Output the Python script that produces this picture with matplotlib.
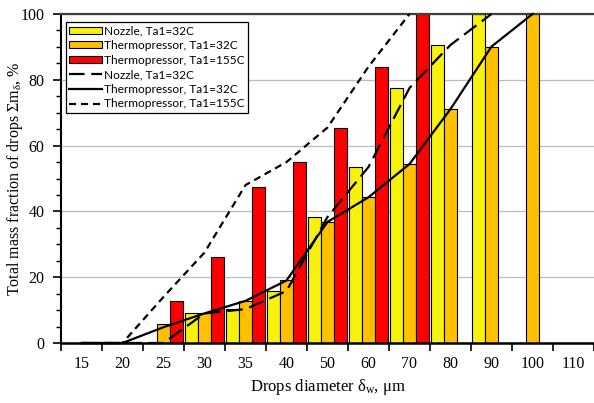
import numpy as np
import matplotlib
matplotlib.use('Agg')
import matplotlib.pyplot as plt
from matplotlib.ticker import MultipleLocator, FixedLocator

# Drop diameter categories (µm)
categories = ['15', '20', '25', '30', '35', '40', '50', '60', '70', '80', '90', '100', '110']

# Bar values, total mass fraction of drops, %
nozzle_32 = [0, 0, 0, 9.0, 10.3, 15.8, 38.3, 53.5, 77.5, 90.6, 100, 0, 0]
thermo_32 = [0, 0, 5.8, 9.0, 12.8, 19.0, 36.8, 44.3, 54.4, 71.1, 90.1, 100, 0]
thermo_155 = [0, 0, 12.8, 26.0, 47.5, 55.0, 65.3, 83.9, 100, 0, 0, 0, 0]

# Curves (drawn at category centres)
nozzle_32_line = [0, 0, 0, 9.0, 10.3, 15.8, 38.3, 53.5, 77.5, 90.6, 100]
thermo_32_line = [0, 0, 4.8, 9.0, 12.8, 19.0, 36.8, 44.3, 54.4, 71.1, 90.1, 100]
thermo_155_line = [0, 0, 14.0, 27.5, 48.0, 55.0, 65.5, 84.0, 100]

serif = 'Liberation Serif'

fig = plt.figure(figsize=(5.94, 4.03), dpi=100)
ax = fig.add_axes([61 / 594, 1 - 343 / 403, 533 / 594, 329 / 403])

x = np.arange(len(categories))
w = 0.31
step = 0.325

# Bars
b1 = ax.bar(x - step, nozzle_32, w, color='#F7F20C', edgecolor='black', linewidth=0.8, zorder=2)
b2 = ax.bar(x, thermo_32, w, color='#FFC000', edgecolor='black', linewidth=0.8, zorder=2)
b3 = ax.bar(x + step, thermo_155, w, color='#FF0000', edgecolor='black', linewidth=0.8, zorder=2)

# Lines
l1, = ax.plot(x[:len(nozzle_32_line)], nozzle_32_line, color='black', lw=1.6,
              dashes=(7, 3), zorder=3, clip_on=False)
l2, = ax.plot(x[:len(thermo_32_line)], thermo_32_line, color='black', lw=1.6,
              zorder=3, clip_on=False)
l3, = ax.plot(x[:len(thermo_155_line)], thermo_155_line, color='black', lw=1.6,
              dashes=(3.2, 2.2), zorder=3, clip_on=False)

# Axes limits and ticks
ax.set_xlim(-0.5, len(categories) - 0.5)
ax.set_ylim(0, 100)

ax.set_xticks(x)
ax.set_xticklabels(categories, fontfamily=serif, fontsize=11.5)
ax.xaxis.set_minor_locator(FixedLocator(np.arange(-0.5, len(categories), 1.0)))
ax.tick_params(axis='x', which='major', length=0, pad=9)
ax.tick_params(axis='x', which='minor', length=6, width=1.2, direction='out')

ax.yaxis.set_major_locator(MultipleLocator(20))
ax.yaxis.set_minor_locator(MultipleLocator(5))
ax.tick_params(axis='y', which='major', length=6, width=1.2, direction='out', pad=6,
               labelsize=11.5)
ax.tick_params(axis='y', which='minor', length=3.5, width=1.0, direction='out')
for lab in ax.get_yticklabels():
    lab.set_fontfamily(serif)

ax.grid(axis='y', which='major', color='#BBBBBB', linewidth=0.9, zorder=0)
ax.set_axisbelow(True)

# Spines
ax.spines['right'].set_visible(False)
ax.spines['top'].set_color('#404040')
ax.spines['top'].set_linewidth(1.6)
ax.spines['left'].set_linewidth(1.5)
ax.spines['bottom'].set_linewidth(1.8)

# Labels
ax.set_xlabel(r'Drops diameter $\mathregular{\delta_w}$, $\mathregular{\mu}$m',
              fontfamily=serif, fontsize=12)
ax.xaxis.set_label_coords(0.5, -(387 - 343) / 329)
ax.set_ylabel(r'Total mass fraction of drops $\mathregular{\Sigma m_\delta}$, %',
              fontfamily=serif, fontsize=11.5)
ax.yaxis.set_label_coords(-(61 - 15) / 533, 0.5)
ax.xaxis.label.set_va('center')
ax.yaxis.label.set_va('center')

# Legend
leg = ax.legend([b1, b2, b3, l1, l2, l3],
                ['Nozzle, Ta1=32C', 'Thermopressor, Ta1=32C', 'Thermopressor, Ta1=155C',
                 'Nozzle, Ta1=32C', 'Thermopressor, Ta1=32C', 'Thermopressor, Ta1=155C'],
                loc='upper left', bbox_to_anchor=(0.009, 0.976), borderaxespad=0,
                prop={'family': 'Lato', 'size': 8.6}, frameon=True, fancybox=False,
                edgecolor='black', framealpha=1, handlelength=2.7, handleheight=0.5,
                handletextpad=0.2, labelspacing=0.3, borderpad=0.3)
leg.get_frame().set_linewidth(0.9)

fig.savefig('out.png', dpi=100)
